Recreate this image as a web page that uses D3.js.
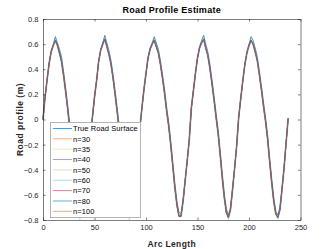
<!DOCTYPE html>
<html>
<head>
<meta charset="utf-8">
<script src="https://cdn.jsdelivr.net/npm/d3@7"></script>
<style>
  body { margin: 0; background: #fff; }
  svg { display: block; font-family: "Liberation Sans", Arial, sans-serif; }
</style>
</head>
<body>
<svg id="chart" width="332" height="249"></svg>
<script>
// samples along the road, every 2 units
const arcLength = d3.range(0, 240, 2);

const trueSurface = [
  0.00, 0.17, 0.31, 0.45, 0.55, 0.60, 0.66, 0.61, 0.56, 0.50, 0.38, 0.25,
  0.11, -0.04, -0.20, -0.37, -0.53, -0.67, -0.75, -0.73, -0.60, -0.44, -0.29, -0.14,
  0.01, 0.17, 0.30, 0.46, 0.56, 0.61, 0.67, 0.61, 0.55, 0.47, 0.36, 0.23,
  0.09, -0.05, -0.22, -0.39, -0.55, -0.68, -0.75, -0.72, -0.58, -0.42, -0.27, -0.08,
  0.08, 0.23, 0.36, 0.49, 0.57, 0.61, 0.66, 0.61, 0.56, 0.47, 0.36, 0.24,
  0.10, -0.02, -0.17, -0.34, -0.51, -0.65, -0.74, -0.75, -0.64, -0.48, -0.33, -0.17,
  0.08, 0.22, 0.36, 0.49, 0.58, 0.63, 0.67, 0.60, 0.54, 0.44, 0.32, 0.19,
  0.05, -0.08, -0.25, -0.43, -0.59, -0.71, -0.76, -0.70, -0.55, -0.39, -0.22,
  0.01, 0.16, 0.30, 0.44, 0.54, 0.60, 0.66, 0.63, 0.57, 0.50, 0.39, 0.27,
  0.14, 0.02, -0.12, -0.30, -0.47, -0.62, -0.73, -0.76, -0.70, -0.55, -0.38, -0.18, 0.00
];

// the estimates for every n sit on top of each other in the picture
const estimate = [
  0.00, 0.18, 0.32, 0.45, 0.54, 0.59, 0.63, 0.59, 0.53, 0.46, 0.35, 0.22,
  0.08, -0.07, -0.23, -0.40, -0.56, -0.70, -0.78, -0.75, -0.61, -0.45, -0.29, -0.13,
  0.02, 0.18, 0.31, 0.46, 0.55, 0.60, 0.64, 0.58, 0.52, 0.44, 0.33, 0.20,
  0.06, -0.08, -0.25, -0.42, -0.58, -0.71, -0.78, -0.74, -0.59, -0.43, -0.27, -0.07,
  0.09, 0.24, 0.37, 0.49, 0.56, 0.60, 0.63, 0.58, 0.53, 0.44, 0.33, 0.21,
  0.07, -0.05, -0.20, -0.37, -0.54, -0.68, -0.77, -0.77, -0.65, -0.49, -0.33, -0.16,
  0.09, 0.23, 0.37, 0.49, 0.57, 0.61, 0.64, 0.57, 0.51, 0.41, 0.29, 0.16,
  0.02, -0.11, -0.28, -0.46, -0.62, -0.74, -0.78, -0.72, -0.56, -0.39, -0.21,
  0.02, 0.17, 0.31, 0.44, 0.53, 0.59, 0.63, 0.60, 0.54, 0.47, 0.36, 0.24,
  0.11, -0.01, -0.15, -0.33, -0.50, -0.65, -0.75, -0.78, -0.72, -0.56, -0.39, -0.19, 0.01
];

const seriesNames = ["True Road Surface", "n=30", "n=35", "n=40", "n=50", "n=60", "n=70", "n=80", "n=100"];
const seriesColors = ["#0072BD", "#D95319", "#EDB120", "#7E2F8E", "#77AC30", "#4DBEEE", "#A2142F", "#0072BD", "#D95319"];
const seriesAlpha = [0.7, 0.5, 0.3, 0.5, 0.3, 0.5, 0.5, 0.3, 0.5];
const seriesWidth = [1, 1, 1, 1, 1, 1, 1, 2, 1];

const xTicks = [0, 50, 100, 150, 200, 250];
const yTicks = [-0.8, -0.6, -0.4, -0.2, 0, 0.2, 0.4, 0.6, 0.8];

const svg = d3.select("#chart");
const plotLeft = 43, plotRight = 300.5, plotTop = 19, plotBottom = 220;

const x = d3.scaleLinear().domain([0, 250]).range([plotLeft, plotRight]);
const y = d3.scaleLinear().domain([-0.8, 0.8]).range([plotBottom, plotTop]);

const axisColor = "#262626";

// lines
const line = d3.line().x((d, i) => x(arcLength[i])).y(d => y(d));
const seriesData = seriesNames.map((name, i) => i === 0 ? trueSurface : estimate);

svg.append("g").selectAll("path")
  .data(seriesData)
  .join("path")
  .attr("d", line)
  .attr("fill", "none")
  .attr("stroke", (d, i) => seriesColors[i])
  .attr("stroke-opacity", (d, i) => seriesAlpha[i])
  .attr("stroke-width", (d, i) => seriesWidth[i]);

// axes, with ticks on all four sides like a boxed plot
const fmt = d => d === 0 ? "0" : d3.format(".1f")(d);
svg.append("g").attr("transform", `translate(0,${plotBottom})`)
  .call(d3.axisBottom(x).tickValues(xTicks).tickSizeInner(-2.5).tickSizeOuter(0).tickPadding(5));
svg.append("g").attr("transform", `translate(${plotLeft},0)`)
  .call(d3.axisLeft(y).tickValues(yTicks).tickFormat(fmt).tickSizeInner(-2.5).tickSizeOuter(0).tickPadding(4.5));
svg.append("g").attr("transform", `translate(0,${plotTop})`)
  .call(d3.axisTop(x).tickValues(xTicks).tickSizeInner(-2.5).tickSizeOuter(0).tickFormat(""));
svg.append("g").attr("transform", `translate(${plotRight},0)`)
  .call(d3.axisRight(y).tickValues(yTicks).tickSizeInner(-2.5).tickSizeOuter(0).tickFormat(""));

svg.selectAll(".domain").attr("stroke", axisColor).attr("stroke-width", 0.6);
svg.selectAll(".tick line").attr("stroke", axisColor).attr("stroke-width", 0.6);
svg.selectAll(".tick text").attr("fill", axisColor).attr("font-size", 7.5)
  .attr("font-family", "Liberation Sans, Arial, sans-serif");

// titles
svg.append("text").attr("x", (plotLeft + plotRight) / 2).attr("y", 13)
  .attr("text-anchor", "middle").attr("font-size", 9).attr("letter-spacing", 0.25)
  .attr("font-weight", "bold").attr("fill", "#000").text("Road Profile Estimate");
svg.append("text").attr("x", (plotLeft + plotRight) / 2).attr("y", 246.5)
  .attr("text-anchor", "middle").attr("font-size", 8.5).attr("letter-spacing", 0.35)
  .attr("font-weight", "bold").attr("fill", axisColor).text("Arc Length");
svg.append("text").attr("transform", `translate(23,${(plotTop + plotBottom) / 2}) rotate(-90)`)
  .attr("text-anchor", "middle").attr("font-size", 8.5).attr("letter-spacing", 0.5)
  .attr("font-weight", "bold").attr("fill", axisColor).text("Road profile (m)");

// legend
const legend = svg.append("g");
legend.append("rect").attr("x", 50.5).attr("y", 122.5).attr("width", 90).attr("height", 95)
  .attr("fill", "#fff").attr("stroke", "#b4b4b4").attr("stroke-width", 1);
const rows = legend.selectAll("g.row").data(seriesNames).join("g")
  .attr("transform", (d, i) => `translate(0,${128.5 + i * 10.35})`);
rows.append("line").attr("x1", 53).attr("x2", 72).attr("y1", 0).attr("y2", 0)
  .attr("stroke", (d, i) => seriesColors[i])
  .attr("stroke-opacity", (d, i) => seriesAlpha[i])
  .attr("stroke-width", (d, i) => seriesWidth[i]);
rows.append("text").attr("x", 73).attr("y", 2.7).attr("font-size", 7.5).attr("letter-spacing", 0.1)
  .attr("fill", "#000").text(d => d);
</script>
</body>
</html>
